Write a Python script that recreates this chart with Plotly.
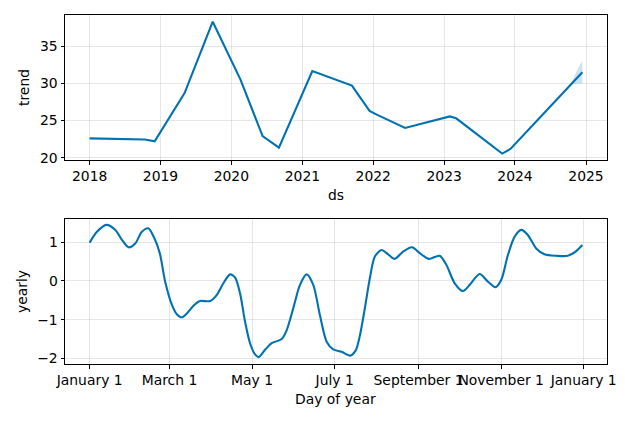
import plotly.graph_objects as go
import datetime as dt

# ---- data ----
trend_dates = ["2018-01-01", "2018-10-12", "2018-12-02", "2019-05-05", "2019-09-27",
               "2020-02-17", "2020-06-10", "2020-09-02", "2021-02-21", "2021-09-13",
               "2021-12-13", "2022-01-19", "2022-06-14", "2023-01-30", "2023-03-04",
               "2023-10-27", "2023-12-10", "2024-12-13"]
trend_vals = [22.6, 22.45, 22.2, 28.7, 38.3,
              30.5, 22.9, 21.35, 31.65, 29.7,
              26.3, 25.8, 24.0, 25.55, 25.3,
              20.55, 21.2, 31.5]

band_dates = ["2024-10-10", "2024-11-01", "2024-11-20", "2024-12-13"]
band_upper = [29.6, 30.9, 32.0, 33.0]
band_lower = [29.6, 29.9, 30.0, 30.0]

year_days = [0, 5.4, 12.3, 19, 23.9, 28.8, 33.7, 38.6, 43.3, 47.5, 51.8, 55.8, 60.8,
             64.4, 68.1, 71.8, 76.7, 81.6, 89, 94, 98.8, 103.8, 107.4, 111.1, 114.8,
             118.5, 122.2, 124.8, 129.6, 134.5, 141.9, 145.6, 150.4, 155.4, 160.3,
             165.2, 170.1, 175.1, 180, 186.1, 192.3, 196.5, 199.6, 203.3, 207, 210.7,
             215.6, 220.5, 225.4, 231.6, 238.2, 243.9, 250.5, 258.6, 263.6, 269.7,
             275.8, 280.8, 288.1, 294.3, 299.9, 304.1, 309, 313.9, 318.9, 323.7,
             329.9, 336, 344.7, 353.2, 359, 364]
year_vals = [0.99, 1.27, 1.45, 1.32, 1.06, 0.87, 0.97, 1.27, 1.36, 1.13, 0.72, -0.02, -0.62,
             -0.86, -0.94, -0.84, -0.64, -0.52, -0.52, -0.36, -0.06, 0.17, 0.09, -0.32, -1.05,
             -1.61, -1.90, -1.97, -1.78, -1.61, -1.50, -1.27, -0.71, -0.10, 0.17,
             -0.10, -0.88, -1.57, -1.77, -1.83, -1.93, -1.80, -1.42, -0.71, 0.07, 0.63,
             0.80, 0.69, 0.57, 0.76, 0.87, 0.72, 0.57, 0.65, 0.41, -0.06,
             -0.26, -0.10, 0.18, -0.02, -0.16, 0.03, 0.67, 1.14, 1.32, 1.19,
             0.84, 0.69, 0.65, 0.65, 0.76, 0.93]

year_tick_dates = ["2017-01-01", "2017-03-01", "2017-05-01", "2017-07-01",
                   "2017-09-01", "2017-11-01", "2018-01-01"]
year_tick_text = ["January 1", "March 1", "May 1", "July 1",
                  "September 1", "November 1", "January 1"]
trend_ticks = [20, 25, 30, 35]
yearly_ticks = [-2, -1, 0, 1]
yearly_tick_text = ["\u22122", "\u22121", "0", "1"]

base = dt.datetime(2017, 1, 1)
year_x = [base + dt.timedelta(days=d) for d in year_days]

COLOR = "#0072B2"
FONT = dict(family="DejaVu Sans", size=13.9, color="black")
W, H = 634, 422

fig = go.Figure()
fig.add_trace(go.Scatter(x=band_dates, y=band_lower, mode="lines", line=dict(width=0),
                         showlegend=False, hoverinfo="skip", xaxis="x", yaxis="y"))
fig.add_trace(go.Scatter(x=band_dates, y=band_upper, mode="lines", line=dict(width=0),
                         fill="tonexty", fillcolor="rgba(0,114,178,0.2)",
                         showlegend=False, hoverinfo="skip", xaxis="x", yaxis="y"))
fig.add_trace(go.Scatter(x=trend_dates, y=trend_vals, mode="lines",
                         line=dict(color=COLOR, width=2.1), showlegend=False,
                         xaxis="x", yaxis="y"))
fig.add_trace(go.Scatter(x=year_x, y=year_vals, mode="lines",
                         line=dict(color=COLOR, width=2.1, shape="spline", smoothing=0.8),
                         showlegend=False, xaxis="x2", yaxis="y2"))

axis_common = dict(showline=True, linecolor="black", linewidth=1, mirror=True,
                   ticks="outside", ticklen=3.5, tickwidth=1, tickcolor="black",
                   showgrid=True, gridcolor="rgba(128,128,128,0.2)", gridwidth=1,
                   zeroline=False, tickfont=FONT, tickangle=0, automargin=False)

x0, x1 = 65 / W, 607 / W
fig.update_layout(
    width=W, height=H, margin=dict(l=0, r=0, t=0, b=0),
    paper_bgcolor="white", plot_bgcolor="white", font=FONT,
    xaxis=dict(domain=[x0, x1], anchor="y", type="date",
               range=["2017-08-27", "2025-04-19"],
               tickvals=[f"{y}-01-01" for y in range(2018, 2026)],
               ticktext=[str(y) for y in range(2018, 2026)], **axis_common),
    yaxis=dict(domain=[1 - 160.3 / H, 1 - 15 / H], anchor="x", range=[19.65, 39.2],
               tickvals=trend_ticks, **axis_common),
    xaxis2=dict(domain=[x0, x1], anchor="y2", type="date",
                range=["2016-12-13 19:00", "2018-01-18 05:00"],
                tickvals=year_tick_dates, ticktext=year_tick_text, **axis_common),
    yaxis2=dict(domain=[1 - 364.3 / H, 1 - 219.3 / H], anchor="x2", range=[-2.155, 1.594],
                tickvals=yearly_ticks, ticktext=yearly_tick_text, **axis_common),
    annotations=[
        dict(text="ds", x=336 / W, y=1 - 195 / H, xref="paper", yref="paper",
             showarrow=False, font=FONT, xanchor="center", yanchor="middle"),
        dict(text="Day of year", x=335 / W, y=1 - 399 / H, xref="paper", yref="paper",
             showarrow=False, font=FONT, xanchor="center", yanchor="middle"),
        dict(text="trend", x=24 / W, y=1 - 88 / H, xref="paper", yref="paper",
             showarrow=False, font=FONT, textangle=-90, xanchor="center", yanchor="middle"),
        dict(text="yearly", x=22 / W, y=1 - 292 / H, xref="paper", yref="paper",
             showarrow=False, font=FONT, textangle=-90, xanchor="center", yanchor="middle"),
    ],
)

fig.write_html("out.html")
